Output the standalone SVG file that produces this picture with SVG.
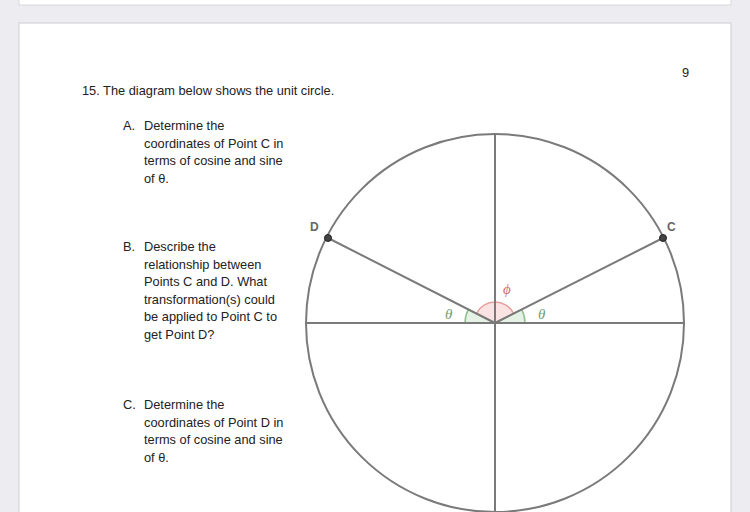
<svg xmlns="http://www.w3.org/2000/svg" width="750" height="512" viewBox="0 0 750 512">
<style>
.t{font-family:"Liberation Sans",Arial,sans-serif;font-size:12.8px;fill:#222}
.ln{stroke:#7a7a7a;stroke-width:2;fill:none}
.lbl{font-family:"Liberation Sans",Arial,sans-serif;font-size:12px;fill:#666;font-weight:bold}
.gr{font-family:"Liberation Serif","DejaVu Serif",serif;font-style:italic;font-size:15px}
</style>
<rect width="750" height="512" fill="#ececf1"/>
<rect x="19" y="-2" width="712" height="7" fill="#fff" stroke="#d8d8dc" stroke-width="1"/>
<rect x="19" y="23" width="712" height="495" fill="#fff" stroke="#d4d4d8" stroke-width="1.2"/>
<g id="text">
<text class="t" x="682" y="77">9</text>
<text class="t" x="82" y="95">15. The diagram below shows the unit circle.</text>
<text class="t" x="123" y="130">A.</text>
<text class="t" x="144" y="130">Determine the</text>
<text class="t" x="144" y="147.5">coordinates of Point C in</text>
<text class="t" x="144" y="165">terms of cosine and sine</text>
<text class="t" x="144" y="182.5">of θ.</text>
<text class="t" x="123" y="251">B.</text>
<text class="t" x="144" y="251">Describe the</text>
<text class="t" x="144" y="268.5">relationship between</text>
<text class="t" x="144" y="286">Points C and D. What</text>
<text class="t" x="144" y="303.5">transformation(s) could</text>
<text class="t" x="144" y="321">be applied to Point C to</text>
<text class="t" x="144" y="338.5">get Point D?</text>
<text class="t" x="123" y="409">C.</text>
<text class="t" x="144" y="409">Determine the</text>
<text class="t" x="144" y="426.5">coordinates of Point D in</text>
<text class="t" x="144" y="444">terms of cosine and sine</text>
<text class="t" x="144" y="461.5">of θ.</text>
</g>
<g id="angles">
<path d="M495,323 L465,323 A30,30 0 0 1 468.3,309.4 Z" fill="#e6f2e6" stroke="#8fc08f" stroke-width="1.5"/>
<path d="M495,323 L525,323 A30,30 0 0 0 521.7,309.4 Z" fill="#e6f2e6" stroke="#8fc08f" stroke-width="1.5"/>
<path d="M495,323 L476.3,313.5 A21,21 0 0 1 513.7,313.5 Z" fill="#fbe3e3" stroke="#e7a0a0" stroke-width="1.5"/>
<text class="gr" x="445" y="319" fill="#6fa06f">θ</text>
<text class="gr" x="538" y="319" fill="#6fa06f">θ</text>
<text class="gr" x="503" y="294" fill="#d07070">ϕ</text>
</g>
<g id="connectors">
<circle class="ln" cx="495" cy="323" r="189"/>
<line class="ln" x1="306" y1="323" x2="684" y2="323"/>
<line class="ln" x1="495" y1="134" x2="495" y2="512"/>
<line class="ln" x1="495" y1="323" x2="328" y2="238"/>
<line class="ln" x1="495" y1="323" x2="663" y2="238"/>
</g>
<g id="pointD">
<circle cx="328" cy="238" r="3.5" fill="#444" stroke="#222" stroke-width="1"/>
<text class="lbl" x="310" y="231">D</text>
</g>
<g id="pointC">
<circle cx="663" cy="238" r="3.5" fill="#444" stroke="#222" stroke-width="1"/>
<text class="lbl" x="667" y="231">C</text>
</g>
</svg>
